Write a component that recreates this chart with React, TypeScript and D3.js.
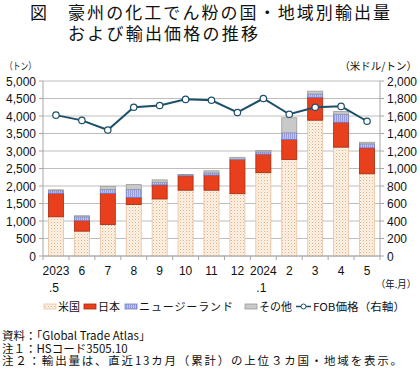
import React from "react";
import * as d3 from "d3";

const categories = ["2023.5", "6", "7", "8", "9", "10", "11", "12", "2024.1", "2", "3", "4", "5"];
const labelTop = ["2023", "6", "7", "8", "9", "10", "11", "12", "2024", "2", "3", "4", "5"];
const labelBottom = [".5", "", "", "", "", "", "", "", ".1", "", "", "", ""];
const usa = [1120, 710, 900, 1470, 1630, 1880, 1880, 1780, 2380, 2760, 3880, 3110, 2350];
const japan = [670, 300, 890, 200, 400, 410, 430, 970, 530, 570, 650, 710, 740];
const nz = [75, 110, 110, 230, 75, 20, 65, 20, 65, 190, 100, 230, 115];
const others = [25, 30, 90, 140, 70, 20, 60, 50, 40, 430, 80, 75, 45];
const fob = [1610, 1550, 1440, 1700, 1720, 1790, 1780, 1640, 1800, 1620, 1700, 1710, 1540];
const leftTicks = [0, 500, 1000, 1500, 2000, 2500, 3000, 3500, 4000, 4500, 5000];
const rightTicks = [0, 200, 400, 600, 800, 1000, 1200, 1400, 1600, 1800, 2000];

const W = 420, H = 372;
const X0 = 43, X1 = 380, YT = 81, YB = 256;
const JP = "'Noto Sans CJK JP', 'Noto Sans', sans-serif";
const NUM = "'Liberation Sans', Arial, sans-serif";
const RED = "#e8401c";
const TEAL = "#1d4f68";

export default function App() {
  const x = d3.scaleBand<string>().domain(categories).range([X0, X1]).paddingInner(0.42).paddingOuter(0.21);
  const yL = d3.scaleLinear().domain([0, 5000]).range([YB, YT]);
  const yR = d3.scaleLinear().domain([0, 2000]).range([YB, YT]);
  const step = (X1 - X0) / categories.length;

  const series = [
    { key: "usa", vals: usa, fill: "url(#patUsa)", stroke: "#e6c2a0" },
    { key: "japan", vals: japan, fill: RED, stroke: "#a8280c" },
    { key: "nz", vals: nz, fill: "url(#patNz)", stroke: "#7078c8" },
    { key: "others", vals: others, fill: "#c9c9c9", stroke: "#9a9a9a" },
  ];

  const line = d3
    .line<number>()
    .x((_, i) => (x(categories[i]) as number) + x.bandwidth() / 2)
    .y((d) => yR(d));

  const bars: JSX.Element[] = [];
  categories.forEach((c, i) => {
    let base = 0;
    series.forEach((s) => {
      const v = s.vals[i];
      const y0 = yL(base);
      const y1 = yL(base + v);
      bars.push(
        <rect
          key={s.key + i}
          x={x(c)}
          y={y1}
          width={x.bandwidth()}
          height={y0 - y1}
          fill={s.fill}
          stroke={s.stroke}
          strokeWidth={0.8}
        />
      );
      base += v;
    });
  });

  const legend = [
    { sx: 44, tx: 58, label: "米国", len: 22, fill: "url(#patUsa)", stroke: "#e6c2a0" },
    { sx: 84, tx: 98, label: "日本", len: 22, fill: RED, stroke: "#a8280c" },
    { sx: 125, tx: 139, label: "ニュージーランド", len: 94, fill: "url(#patNz)", stroke: "#7078c8" },
    { sx: 245, tx: 259, label: "その他", len: 33, fill: "#c9c9c9", stroke: "#9a9a9a" },
  ];

  return (
    <svg width={W} height={H} style={{ display: "block", position: "absolute", left: 0, top: 0, background: "#fff" }}>
      <defs>
        <pattern id="patUsa" width="3" height="3" patternUnits="userSpaceOnUse">
          <rect width="3" height="3" fill="#fdf4ea" />
          <rect x="0" y="0" width="1" height="1" fill="#e8ab78" />
          <rect x="1.5" y="1.5" width="1" height="1" fill="#f1cba6" />
        </pattern>
        <pattern id="patNz" width="2" height="2" patternUnits="userSpaceOnUse">
          <rect width="2" height="2" fill="#c9cdf4" />
          <rect x="0" y="0" width="1" height="2" fill="#8f96dc" />
          <rect x="0" y="0" width="2" height="0.6" fill="#a8aee6" />
        </pattern>
      </defs>

      {/* title */}
      <text x={30} y={19} fontFamily={JP} fontSize={17} fontWeight={400} fill="#111">図</text>
      <text x={68} y={19} fontFamily={JP} fontSize={17} fontWeight={400} fill="#111" textLength={322} lengthAdjust="spacing">
        豪州の化工でん粉の国・地域別輸出量
      </text>
      <text x={68} y={40} fontFamily={JP} fontSize={17} fontWeight={400} fill="#111" textLength={190} lengthAdjust="spacing">
        および輸出価格の推移
      </text>

      {/* unit labels */}
      <text x={5} y={70} fontFamily={JP} fontSize={10} fill="#111" textLength={31} lengthAdjust="spacingAndGlyphs">（トン）</text>
      <text x={417} y={70} fontFamily={JP} fontSize={10.5} fill="#111" textAnchor="end">（米ドル/トン）</text>

      {/* gridlines */}
      {leftTicks.map((t) => (
        <line key={"g" + t} x1={X0} x2={X1} y1={yL(t)} y2={yL(t)} stroke="#bdbdbd" strokeWidth={1} />
      ))}

      {/* bars */}
      {bars}

      {/* axes */}
      <line x1={X0} x2={X0} y1={YT} y2={YB} stroke="#a6a6a6" />
      <line x1={X1} x2={X1} y1={YT} y2={YB} stroke="#a6a6a6" />
      <line x1={X0} x2={X1} y1={YB} y2={YB} stroke="#a6a6a6" />
      {leftTicks.map((t) => (
        <line key={"lt" + t} x1={X0 - 4} x2={X0} y1={yL(t)} y2={yL(t)} stroke="#a6a6a6" />
      ))}
      {rightTicks.map((t) => (
        <line key={"rt" + t} x1={X1} x2={X1 + 4} y1={yR(t)} y2={yR(t)} stroke="#a6a6a6" />
      ))}
      {d3.range(categories.length + 1).map((i) => (
        <line key={"xt" + i} x1={X0 + i * step} x2={X0 + i * step} y1={YB} y2={YB + 4} stroke="#a6a6a6" />
      ))}

      {/* tick labels */}
      {leftTicks.map((t) => (
        <text key={"ll" + t} x={36} y={yL(t) + 4.5} fontFamily={NUM} fontSize={12} textAnchor="end" fill="#111">
          {d3.format(",")(t)}
        </text>
      ))}
      {rightTicks.map((t) => (
        <text key={"rl" + t} x={387} y={yR(t) + 4.5} fontFamily={NUM} fontSize={12} textAnchor="start" fill="#111">
          {d3.format(",")(t)}
        </text>
      ))}
      {categories.map((c, i) => {
        const cx = (x(c) as number) + x.bandwidth() / 2;
        return (
          <g key={"xl" + c}>
            <text x={cx} y={275} fontFamily={NUM} fontSize={12} textAnchor="middle" fill="#111">{labelTop[i]}</text>
            {labelBottom[i] && (
              <text x={cx - 2} y={292} fontFamily={NUM} fontSize={12} textAnchor="middle" fill="#111">{labelBottom[i]}</text>
            )}
          </g>
        );
      })}
      <text x={416} y={288} fontFamily={JP} fontSize={10} fill="#111" textAnchor="end" textLength={40} lengthAdjust="spacingAndGlyphs">（年.月）</text>

      {/* FOB line */}
      <path d={line(fob) || ""} fill="none" stroke={TEAL} strokeWidth={2} />
      {fob.map((v, i) => (
        <circle
          key={"p" + i}
          cx={(x(categories[i]) as number) + x.bandwidth() / 2}
          cy={yR(v)}
          r={3.2}
          fill="#fff"
          stroke={TEAL}
          strokeWidth={1.2}
        />
      ))}

      {/* legend */}
      {legend.map((l) => (
        <g key={l.label}>
          <rect x={l.sx} y={304} width={12} height={5} fill={l.fill} stroke={l.stroke} strokeWidth={0.8} />
          <text x={l.tx} y={311} fontFamily={JP} fontSize={11} fill="#111" textLength={l.len} lengthAdjust="spacing">{l.label}</text>
        </g>
      ))}
      <line x1={296} x2={311} y1={306.5} y2={306.5} stroke={TEAL} strokeWidth={1.5} />
      <circle cx={303.5} cy={306.5} r={2.5} fill="#fff" stroke={TEAL} strokeWidth={1} />
      <text x={313} y={311} fontFamily={JP} fontSize={11} fill="#111" textLength={92} lengthAdjust="spacingAndGlyphs">FOB価格（右軸）</text>

      {/* notes */}
      <text x={2} y={340} fontFamily={JP} fontSize={11.5} fill="#111">資料：「Global Trade Atlas」</text>
      <text x={2} y={352.5} fontFamily={JP} fontSize={11.5} fill="#111">注１：HSコード3505.10</text>
      <text x={2} y={365} fontFamily={JP} fontSize={11.5} fill="#111" textLength={400} lengthAdjust="spacing">
        注２：輸出量は、直近13カ月（累計）の上位３カ国・地域を表示。
      </text>
    </svg>
  );
}
